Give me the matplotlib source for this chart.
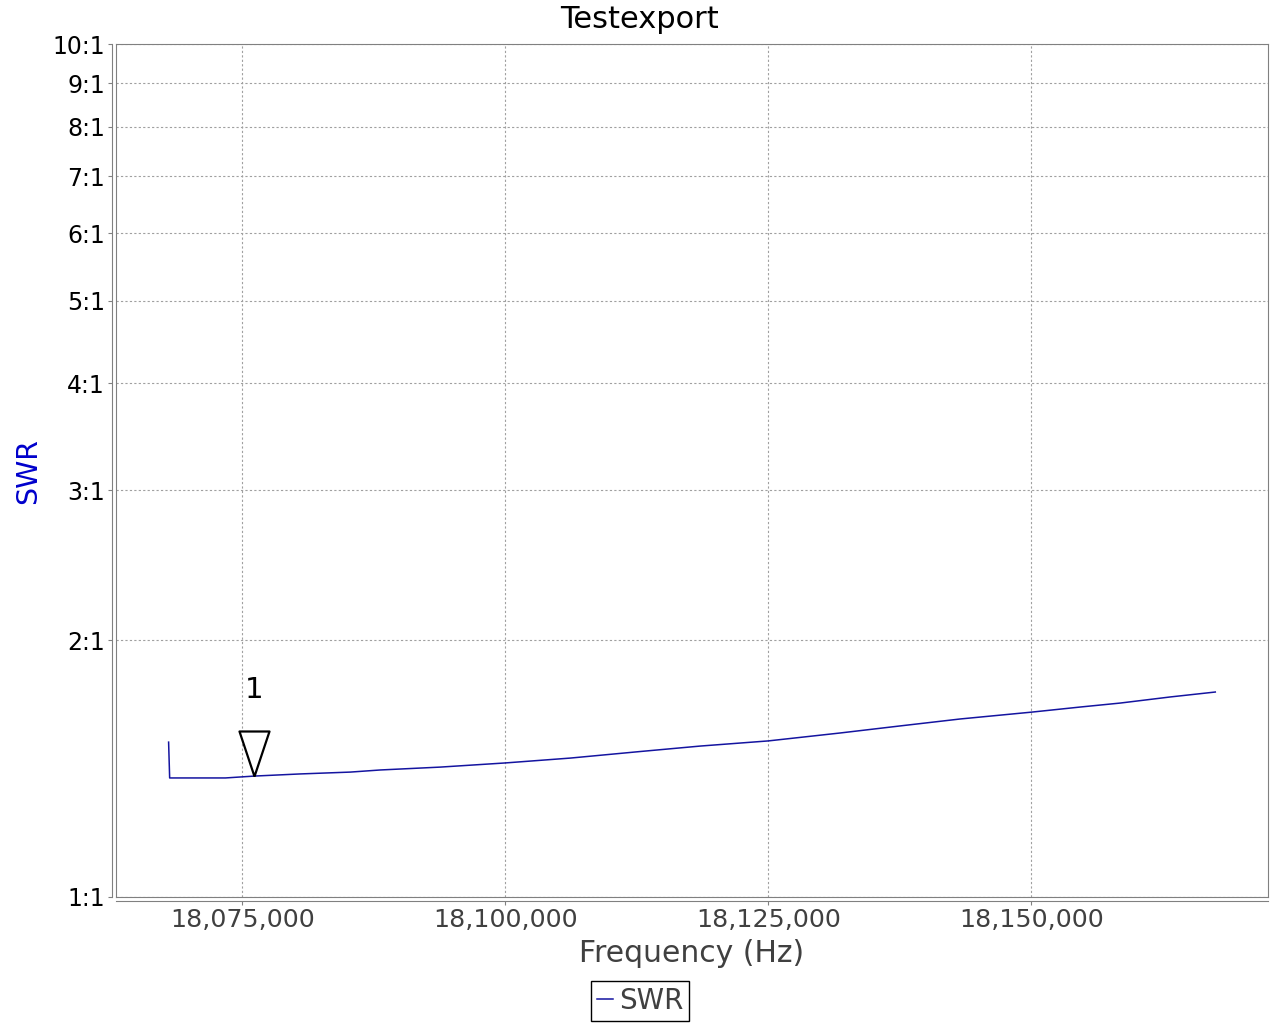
import matplotlib
matplotlib.use("Agg")
import matplotlib.pyplot as plt
from matplotlib.ticker import FixedLocator, FuncFormatter, NullLocator

# SWR sweep
freq_hz = [18068000, 18068100, 18073400, 18076140, 18080500, 18085270,
           18088120, 18093820, 18100000, 18106180, 18112830, 18118540,
           18125000, 18131840, 18137550, 18143250, 18150000, 18154660,
           18158460, 18163210, 18167490]
swr = [1.519, 1.379, 1.379, 1.386, 1.394, 1.401,
       1.409, 1.420, 1.436, 1.455, 1.481, 1.503,
       1.524, 1.557, 1.587, 1.617, 1.647, 1.670,
       1.688, 1.716, 1.739]

marker_freq = 18076140
marker_swr = 1.386
marker_label = "1"

x_ticks = [18075000, 18100000, 18125000, 18150000]
y_ticks = [1, 2, 3, 4, 5, 6, 7, 8, 9, 10]

line_col = "#1414a0"
grey_txt = "#404040"

fig = plt.figure(figsize=(12.8, 10.24), dpi=100)
ax = fig.add_axes([116/1280, 1 - 897/1024, (1268 - 116)/1280, (897 - 44)/1024])

ax.plot(freq_hz, swr, color=line_col, lw=1.1, label="SWR", zorder=3)

# marker triangle, tip on the trace
tri = [(0, 0), (-15, 45), (15, 45), (0, 0)]
ax.plot([marker_freq], [marker_swr], marker=tri, markersize=64.8,
        markerfacecolor="white", markeredgecolor="black", markeredgewidth=1.6,
        linestyle="none", zorder=4)
ax.annotate(marker_label, (marker_freq, marker_swr), xytext=(0, 62),
            textcoords="offset points", ha="center", va="center",
            fontsize=21, color="black")

ax.set_yscale("log")
ax.set_ylim(1, 10)
ax.set_xlim(18063000, 18172500)
ax.yaxis.set_major_locator(FixedLocator(y_ticks))
ax.yaxis.set_minor_locator(NullLocator())
ax.yaxis.set_major_formatter(FuncFormatter(lambda v, p: "%d:1" % round(v)))
ax.xaxis.set_major_locator(FixedLocator(x_ticks))
ax.xaxis.set_major_formatter(FuncFormatter(lambda v, p: "{:,.0f}".format(v)))

ax.grid(True, color="#a0a0a0", lw=0.8, linestyle=(0, (2, 2)))

# JFreeChart-like offset axis lines plus plot outline
for s in ["top", "right"]:
    ax.spines[s].set_color("#808080")
    ax.spines[s].set_linewidth(0.8)
for s in ["left", "bottom"]:
    ax.spines[s].set_position(("outward", 3))
    ax.spines[s].set_color("#808080")
    ax.spines[s].set_linewidth(0.8)
ax.plot([0, 0], [0, 1], transform=ax.transAxes, color="#808080", lw=0.8, clip_on=False)
ax.plot([0, 1], [0, 0], transform=ax.transAxes, color="#808080", lw=0.8, clip_on=False)

ax.tick_params(axis="y", labelsize=17, labelcolor="black", color="#808080",
               length=3, width=0.8, pad=2)
ax.tick_params(axis="x", labelsize=18.3, labelcolor=grey_txt, color="#808080",
               length=3, width=0.8, pad=2)

fig.suptitle("Testexport", fontsize=22, color="black", x=0.5, y=1 - 19/1024, va="center")
ax.set_xlabel("Frequency (Hz)", fontsize=21.5, color=grey_txt, labelpad=5)
fig.text(28/1280, 1 - 471/1024, "SWR", rotation=90, ha="center", va="center",
         fontsize=20.5, color="#0000cc")

fig.legend(loc="center", bbox_to_anchor=(640/1280, 1 - 1001/1024),
           fontsize=20, frameon=True, fancybox=False, edgecolor="black",
           handlelength=0.6, handletextpad=0.2, borderpad=0.2,
           labelcolor=grey_txt, framealpha=1).get_frame().set_linewidth(1.0)

fig.savefig("out.png", dpi=100)
